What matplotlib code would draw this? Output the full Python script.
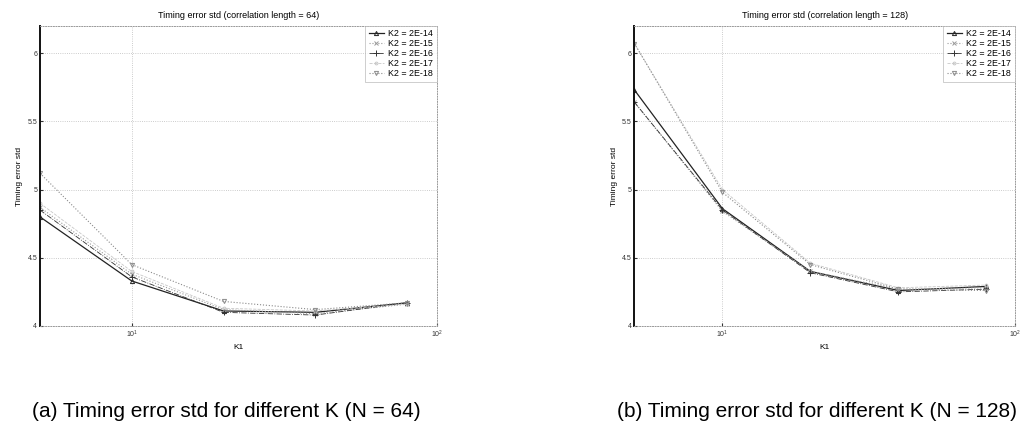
import numpy as np
import matplotlib.pyplot as plt
from matplotlib.ticker import FixedLocator, NullFormatter, NullLocator

plt.rcParams['font.family'] = ['Liberation Sans', 'DejaVu Sans']

# Data
k1 = [5, 10, 20, 40, 80]
k2_labels = ['K2 = 2E-14', 'K2 = 2E-15', 'K2 = 2E-16', 'K2 = 2E-17', 'K2 = 2E-18']

# N = 64
std_64_k2_14 = [4.80, 4.33, 4.11, 4.10, 4.17]
std_64_k2_15 = [4.87, 4.38, 4.12, 4.09, 4.16]
std_64_k2_16 = [4.85, 4.36, 4.10, 4.08, 4.17]
std_64_k2_17 = [4.90, 4.40, 4.13, 4.11, 4.16]
std_64_k2_18 = [5.12, 4.45, 4.18, 4.12, 4.17]

# N = 128
std_128_k2_14 = [5.73, 4.86, 4.40, 4.26, 4.29]
std_128_k2_15 = [5.64, 4.84, 4.40, 4.27, 4.28]
std_128_k2_16 = [5.64, 4.85, 4.39, 4.25, 4.27]
std_128_k2_17 = [6.07, 5.00, 4.46, 4.28, 4.30]
std_128_k2_18 = [6.07, 4.98, 4.45, 4.27, 4.26]

panel_titles = ['Timing error std (correlation length = 64)',
                'Timing error std (correlation length = 128)']
captions = ['(a) Timing error std for different K (N = 64)',
            '(b) Timing error std for different K (N = 128)']

styles = [dict(color='#222222', ls='-', marker='^', ms=3, lw=0.9),
          dict(color='#9a9a9a', ls=':', marker='x', ms=3, lw=0.8),
          dict(color='#333333', ls='-.', marker='+', ms=4, lw=0.6),
          dict(color='#c8c8c8', ls='--', marker='o', ms=2, lw=0.6),
          dict(color='#8a8a8a', ls=':', marker='v', ms=3, lw=0.8)]


def draw_panel(ax, series, title):
    for vals, lab, st in zip(series, k2_labels, styles):
        ax.plot(k1, vals, label=lab, mfc='none', mew=0.7, **st)
    ax.set_xscale('log')
    ax.set_xlim(5, 100)
    ax.set_ylim(4, 6.2)
    ax.xaxis.set_major_locator(FixedLocator([10, 100]))
    ax.xaxis.set_minor_locator(NullLocator())
    ax.xaxis.set_minor_formatter(NullFormatter())
    ax.set_yticks([4, 4.5, 5, 5.5, 6])
    ax.set_yticklabels(['4', '4.5', '5', '5.5', '6'])
    ax.tick_params(direction='in', length=2, labelsize=5, pad=2, colors='#333333')
    ax.grid(True, ls=':', lw=0.6, color='#bbbbbb')
    ax.spines['left'].set_linewidth(1.4)
    ax.spines['left'].set_color('#111111')
    for s in ['top', 'right', 'bottom']:
        ax.spines[s].set_linestyle(':')
        ax.spines[s].set_color('#999999')
        ax.spines[s].set_linewidth(0.7)
    ax.set_title(title, fontsize=6.5, pad=6)
    ax.set_xlabel('K1', fontsize=6, labelpad=3)
    ax.set_ylabel('Timing error std', fontsize=6, labelpad=3)
    leg = ax.legend(loc='upper right', fontsize=6.4, frameon=True, fancybox=False,
                    handlelength=1.7, handletextpad=0.5, borderaxespad=0.0,
                    labelspacing=0.1, borderpad=0.4)
    leg.get_frame().set_edgecolor('#aaaaaa')
    leg.get_frame().set_linewidth(0.5)


fig = plt.figure(figsize=(10.25, 4.25), dpi=100)
ax1 = fig.add_axes([0.039, 0.233, 0.387, 0.706])
ax2 = fig.add_axes([0.619, 0.233, 0.371, 0.706])

draw_panel(ax1, [std_64_k2_14, std_64_k2_15, std_64_k2_16, std_64_k2_17, std_64_k2_18],
           panel_titles[0])
draw_panel(ax2, [std_128_k2_14, std_128_k2_15, std_128_k2_16, std_128_k2_17, std_128_k2_18],
           panel_titles[1])

fig.text(0.031, 0.018, captions[0], fontsize=15, va='baseline', ha='left')
fig.text(0.602, 0.018, captions[1], fontsize=15, va='baseline', ha='left')

plt.savefig('out.png', dpi=100)
plt.close()
